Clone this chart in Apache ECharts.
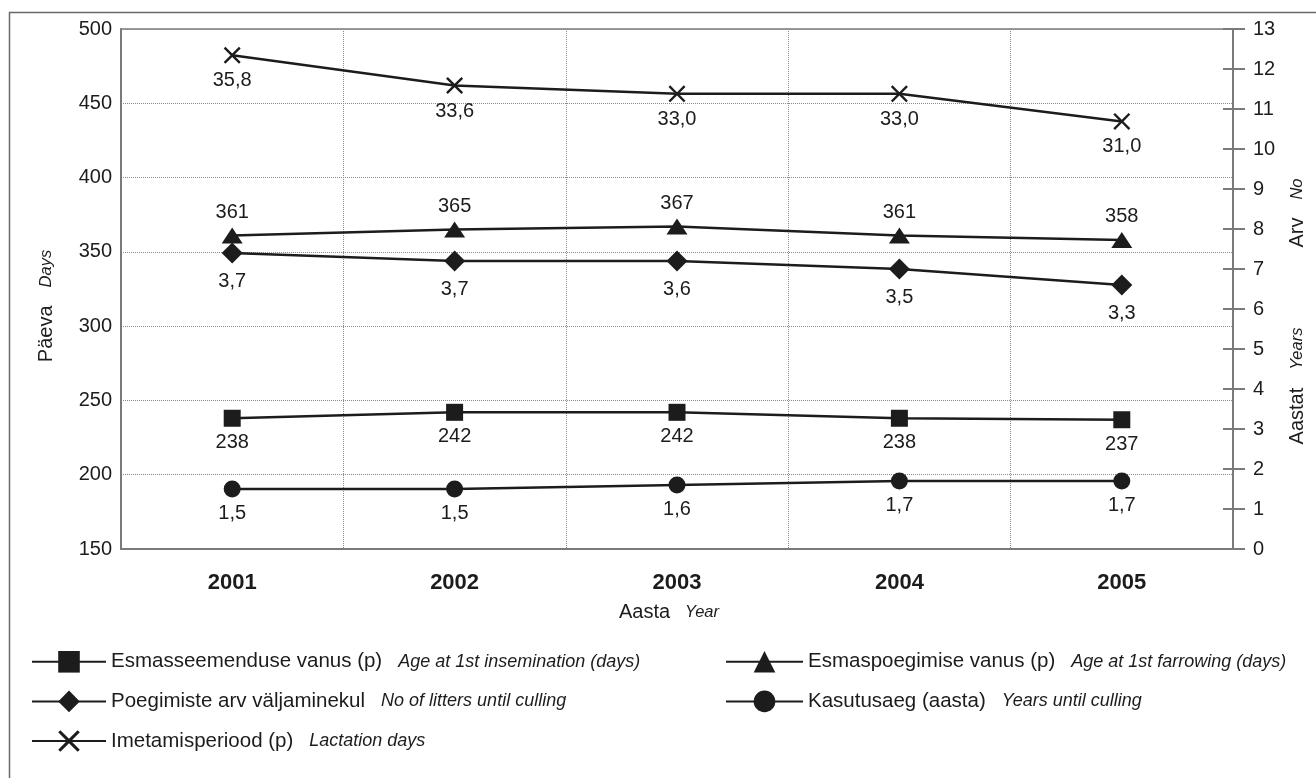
<!DOCTYPE html>
<html><head><meta charset="utf-8">
<script src="https://cdn.jsdelivr.net/npm/echarts@6/dist/echarts.min.js"></script>
<style>html,body{margin:0;padding:0;background:#fff}#c{width:1316px;height:778px}</style>
</head><body><div id="c"></div>
<script>
// ---- data ----
const years = ['2001', '2002', '2003', '2004', '2005'];
const inseminationAge = [238, 242, 242, 238, 237];          // days (left axis)
const farrowingAge = [361, 365, 367, 361, 358];             // days (left axis)
const littersUntilCulling = [3.7, 3.6, 3.6, 3.5, 3.3];      // count (own hidden scale)
const littersLabels = ['3,7', '3,7', '3,6', '3,5', '3,3'];  // printed labels
const yearsUntilCulling = [1.5, 1.5, 1.6, 1.7, 1.7];        // years (right axis)
const lactationDays = [35.8, 33.6, 33.0, 33.0, 31.0];       // days (own hidden scale)
const namesEt = ['Esmasseemenduse vanus (p)', 'Esmaspoegimise vanus (p)', 'Poegimiste arv väljaminekul', 'Kasutusaeg (aasta)', 'Imetamisperiood (p)'];
const namesEn = ['Age at 1st insemination (days)', 'Age at 1st farrowing (days)', 'No of litters until culling', 'Years until culling', 'Lactation days'];
const daysTicks = [150, 500, 50];
const rightTicks = [0, 13, 1];

const FONT = "'Liberation Sans', Arial, Helvetica, sans-serif";
const INK = '#1c1c1c';
const AX = '#7a7a7a';
const comma = v => v.toFixed(1).replace('.', ',');
const crossPath = 'path://M2,0 L10,8 L18,0 L20,2 L12,10 L20,18 L18,20 L10,12 L2,20 L0,18 L8,10 L0,2 Z';

const chart = echarts.init(document.getElementById('c'), null, {renderer: 'canvas'});

function lineSeries(i, data, yAxisIndex, symbol, size, pos, dist, fmt) {
  return {
    name: namesEt[i], type: 'line', data: data, yAxisIndex: yAxisIndex,
    symbol: symbol, symbolSize: size, symbolKeepAspect: false,
    lineStyle: {color: INK, width: 2.5},
    itemStyle: {color: INK},
    label: {show: true, position: pos, distance: dist, color: INK, fontSize: 20, fontFamily: FONT, formatter: fmt},
    emphasis: {disabled: true}, animation: false, z: 3
  };
}

const legendRich = {
  et: {fontSize: 20.5, fontFamily: FONT, color: INK},
  en: {fontSize: 18, fontFamily: FONT, fontStyle: 'italic', color: INK, padding: [0, 0, 0, 16]}
};
const legendFmt = n => '{et|' + n + '}{en|' + namesEn[namesEt.indexOf(n)] + '}';
const nameRich = {
  a: {fontSize: 20, fontFamily: FONT, fill: INK},
  b: {fontSize: 16.5, fontFamily: FONT, fontStyle: 'italic', fill: INK, padding: [0, 0, 0, 18]}
};

const option = {
  backgroundColor: '#fff',
  animation: false,
  grid: {left: 121, right: 83, top: 29, bottom: 229, show: true, borderColor: AX, borderWidth: 1.5, containLabel: false},
  xAxis: {
    type: 'category', data: years, boundaryGap: true,
    axisLine: {show: true, lineStyle: {color: AX, width: 2}},
    axisTick: {show: false},
    axisLabel: {fontSize: 22, fontWeight: 'bold', color: INK, fontFamily: FONT, margin: 23},
    splitLine: {show: true, lineStyle: {color: '#8a8a8a', type: 'dotted', width: 1}}
  },
  yAxis: [
    {type: 'value', position: 'left', min: daysTicks[0], max: daysTicks[1], interval: daysTicks[2],
      axisLine: {show: true, lineStyle: {color: AX, width: 2}},
      axisTick: {show: false},
      axisLabel: {fontSize: 20, color: INK, fontFamily: FONT, margin: 9},
      splitLine: {show: true, lineStyle: {color: '#8a8a8a', type: 'dotted', width: 1}}},
    {type: 'value', position: 'right', min: rightTicks[0], max: rightTicks[1], interval: rightTicks[2],
      axisLine: {show: true, lineStyle: {color: AX, width: 2}},
      axisTick: {show: true, length: 12, lineStyle: {color: AX, width: 2}},
      axisLabel: {fontSize: 20, color: INK, fontFamily: FONT, margin: 20},
      splitLine: {show: false}},
    {type: 'value', show: false, min: 0, max: 6.5},
    {type: 'value', show: false, min: 0, max: 37.7},
    {type: 'value', position: 'right', min: rightTicks[0], max: rightTicks[1], interval: rightTicks[2],
      axisLine: {show: false},
      axisTick: {show: true, inside: true, length: 10, lineStyle: {color: AX, width: 2}},
      axisLabel: {show: false}, splitLine: {show: false}}
  ],
  legend: [
    {data: [namesEt[0], namesEt[2], namesEt[4]], orient: 'vertical', left: 26, top: 646,
      itemWidth: 74, itemHeight: 27, itemGap: 18, selectedMode: false,
      textStyle: {rich: legendRich}, formatter: legendFmt},
    {data: [namesEt[1], namesEt[3]], orient: 'vertical', left: 720, top: 646,
      itemWidth: 77, itemHeight: 27, itemGap: 18, selectedMode: false,
      textStyle: {rich: legendRich}, formatter: legendFmt}
  ],
  graphic: [
    {type: 'rect', silent: true, shape: {x: 9.5, y: 12.5, width: 1330, height: 790},
      style: {fill: 'none', stroke: '#6a6a6a', lineWidth: 1.5}},
    {type: 'text', silent: true, x: 46, y: 306, rotation: Math.PI / 2,
      style: {text: '{a|Päeva}{b|Days}', align: 'center', verticalAlign: 'middle', rich: nameRich}},
    {type: 'text', silent: true, x: 1297, y: 213, rotation: Math.PI / 2,
      style: {text: '{a|Arv}{b|No}', align: 'center', verticalAlign: 'middle', rich: nameRich}},
    {type: 'text', silent: true, x: 1297, y: 386, rotation: Math.PI / 2,
      style: {text: '{a|Aastat}{b|Years}', align: 'center', verticalAlign: 'middle', rich: nameRich}},
    {type: 'text', silent: true, x: 669, y: 612,
      style: {text: '{a|Aasta}{b|Year}', align: 'center', verticalAlign: 'middle',
        rich: {a: {fontSize: 20, fontFamily: FONT, fill: INK}, b: {fontSize: 16.5, fontFamily: FONT, fontStyle: 'italic', fill: INK, padding: [0, 0, 0, 15]}}}}
  ],
  series: [
    lineSeries(0, inseminationAge, 0, 'rect', 17, 'bottom', 6, p => String(p.value)),
    lineSeries(1, farrowingAge, 0, 'triangle', [21, 16], 'top', 5, p => String(p.value)),
    lineSeries(2, littersUntilCulling, 2, 'diamond', [21, 21], 'bottom', 8, p => littersLabels[p.dataIndex]),
    lineSeries(3, yearsUntilCulling, 1, 'circle', 17, 'bottom', 6, p => comma(p.value)),
    lineSeries(4, lactationDays, 3, crossPath, 17, 'bottom', 7, p => comma(p.value))
  ]
};
chart.setOption(option);
</script>
</body></html>
